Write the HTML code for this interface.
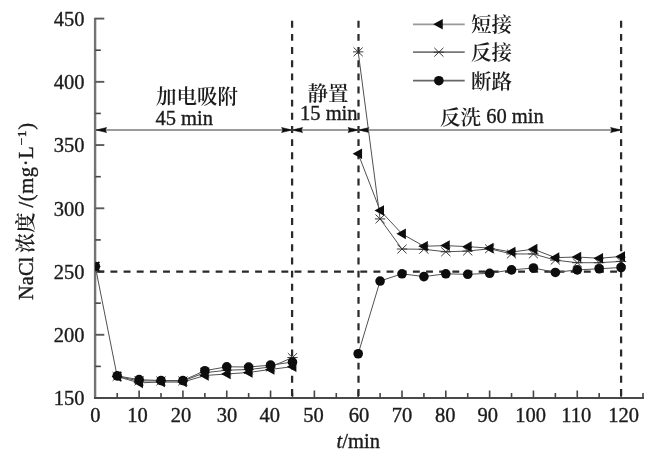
<!DOCTYPE html>
<html lang="zh"><head><meta charset="utf-8"><title>NaCl 浓度</title>
<style>html,body{margin:0;padding:0;background:#fff}body{width:653px;height:456px;overflow:hidden}</style>
</head><body>
<svg width="653" height="456" viewBox="0 0 653 456" style="display:block;font-family:'Liberation Serif', 'Noto Serif CJK SC', serif;font-size:20.5px" fill="#1a1a1a">
<style>text{stroke:#1a1a1a;stroke-width:0.35px;paint-order:stroke}.c{font-weight:600;stroke-width:0}</style>
<defs><filter id="soft" filterUnits="userSpaceOnUse" x="-5" y="-5" width="663" height="466"><feGaussianBlur stdDeviation="0.55"/></filter><clipPath id="plot"><rect x="95.30" y="0" width="560" height="398.01"/></clipPath></defs>
<rect width="653" height="456" fill="#fff"/>
<g filter="url(#soft)">
<g fill="none" stroke-linecap="butt">
<path d="M95.10 17.80V399.01" stroke="#737373" stroke-width="2.4"/>
<path d="M94.00 398.01H643.99" stroke="#4a4a4a" stroke-width="2"/>
</g>
<g stroke="#444" stroke-width="1.6" fill="none">
<path d="M95.30 366.39h5.5" />
<path d="M95.30 334.78h9" stroke="#5a5a5a" stroke-width="1.9"/>
<path d="M95.30 303.16h5.5" />
<path d="M95.30 271.54h9" stroke="#5a5a5a" stroke-width="1.9"/>
<path d="M95.30 239.92h5.5" />
<path d="M95.30 208.30h9" stroke="#5a5a5a" stroke-width="1.9"/>
<path d="M95.30 176.69h5.5" />
<path d="M95.30 145.07h9" stroke="#5a5a5a" stroke-width="1.9"/>
<path d="M95.30 113.45h5.5" />
<path d="M95.30 81.84h9" stroke="#5a5a5a" stroke-width="1.9"/>
<path d="M95.30 50.22h5.5" />
<path d="M95.30 18.60h9" stroke="#5a5a5a" stroke-width="1.9"/>
<path d="M117.21 398.01v-5"/>
<path d="M139.12 398.01v-7.5"/>
<path d="M161.02 398.01v-5"/>
<path d="M182.93 398.01v-7.5"/>
<path d="M204.84 398.01v-5"/>
<path d="M226.75 398.01v-7.5"/>
<path d="M248.65 398.01v-5"/>
<path d="M270.56 398.01v-7.5"/>
<path d="M292.47 398.01v-5"/>
<path d="M314.38 398.01v-7.5"/>
<path d="M336.28 398.01v-5"/>
<path d="M358.19 398.01v-7.5"/>
<path d="M380.10 398.01v-5"/>
<path d="M402.00 398.01v-7.5"/>
<path d="M423.91 398.01v-5"/>
<path d="M445.82 398.01v-7.5"/>
<path d="M467.73 398.01v-5"/>
<path d="M489.63 398.01v-7.5"/>
<path d="M511.54 398.01v-5"/>
<path d="M533.45 398.01v-7.5"/>
<path d="M555.36 398.01v-5"/>
<path d="M577.26 398.01v-7.5"/>
<path d="M599.17 398.01v-5"/>
<path d="M621.08 398.01v-7.5"/>
<path d="M642.99 398.01v-5"/>
</g>
<text x="84.6" y="405.31" text-anchor="end">150</text>
<text x="84.6" y="342.08" text-anchor="end">200</text>
<text x="84.6" y="278.84" text-anchor="end">250</text>
<text x="84.6" y="215.60" text-anchor="end">300</text>
<text x="84.6" y="152.37" text-anchor="end">350</text>
<text x="84.6" y="89.14" text-anchor="end">400</text>
<text x="84.6" y="25.90" text-anchor="end">450</text>
<text x="95.30" y="422.4" text-anchor="middle">0</text>
<text x="137.62" y="422.4" text-anchor="middle">10</text>
<text x="180.93" y="422.4" text-anchor="middle">20</text>
<text x="226.94" y="422.4" text-anchor="middle">30</text>
<text x="269.76" y="422.4" text-anchor="middle">40</text>
<text x="313.38" y="422.4" text-anchor="middle">50</text>
<text x="358.89" y="422.4" text-anchor="middle">60</text>
<text x="402.00" y="422.4" text-anchor="middle">70</text>
<text x="445.32" y="422.4" text-anchor="middle">80</text>
<text x="487.63" y="422.4" text-anchor="middle">90</text>
<text x="530.65" y="422.4" text-anchor="middle">100</text>
<text x="576.26" y="422.4" text-anchor="middle">110</text>
<text x="623.68" y="422.4" text-anchor="middle">120</text>
<g stroke="#2a2a2a" stroke-width="2.25" fill="none" stroke-dasharray="6.9 6.25">
<path d="M292.10 20.8V398.01"/>
<path d="M358.50 20.8V398.01"/>
<path d="M621.10 20.8V398.01"/>
<path d="M97.30 271.54H621.08"/>
</g>
<path d="M95.30 130.0H621.08" stroke="#7a7a7a" stroke-width="1.6" fill="none"/>
<path d="M96.10 130.0L106.60 127.5L105.34 130.0L106.60 132.5Z" fill="#0a0a0a" stroke="#0a0a0a" stroke-width="0.5" stroke-linejoin="round"/>
<path d="M292.10 130.0L281.60 127.5L282.86 130.0L281.60 132.5Z" fill="#0a0a0a" stroke="#0a0a0a" stroke-width="0.5" stroke-linejoin="round"/>
<path d="M292.10 130.0L302.60 127.5L301.34 130.0L302.60 132.5Z" fill="#0a0a0a" stroke="#0a0a0a" stroke-width="0.5" stroke-linejoin="round"/>
<path d="M358.50 130.0L348.00 127.5L349.26 130.0L348.00 132.5Z" fill="#0a0a0a" stroke="#0a0a0a" stroke-width="0.5" stroke-linejoin="round"/>
<path d="M358.50 130.0L369.00 127.5L367.74 130.0L369.00 132.5Z" fill="#0a0a0a" stroke="#0a0a0a" stroke-width="0.5" stroke-linejoin="round"/>
<path d="M621.10 130.0L610.60 127.5L611.86 130.0L610.60 132.5Z" fill="#0a0a0a" stroke="#0a0a0a" stroke-width="0.5" stroke-linejoin="round"/>
<text x="156" y="104.1" class="c">加电吸附</text>
<text x="155.4" y="124.8">45 min</text>
<text x="307.6" y="100.5" class="c">静置</text>
<text x="300" y="120.4">15 min</text>
<text x="440" y="123.2"><tspan class="c" dy="1.5">反洗</tspan><tspan dy="-1.5"> 60 min</tspan></text>
<g clip-path="url(#plot)">
<g stroke="#505050" stroke-width="1" fill="none">
<path d="M95.30 266.48L117.21 376.51L139.12 382.83L161.02 382.07L182.93 382.07L204.84 375.50L226.75 373.98L248.65 372.46L270.56 369.43L292.47 366.65"/>
<path d="M117.21 376.51L139.12 380.94L161.02 380.94L182.93 380.94L204.84 372.72L226.75 370.19L248.65 369.55L270.56 367.02L292.47 357.54"/>
<path d="M117.21 375.88L139.12 379.67L161.02 380.56L182.93 380.56L204.84 370.69L226.75 366.77L248.65 367.02L270.56 365.13L292.47 362.09"/>
<path d="M358.19 153.80L380.10 210.45L402.00 233.85L423.91 246.25L445.82 245.61L467.73 246.63L489.63 248.14L511.54 252.06L533.45 249.15L555.36 257.63L577.26 257.00L599.17 258.26L621.08 256.49"/>
<path d="M358.19 51.86L380.10 218.93L402.00 249.03L423.91 249.28L445.82 251.81L467.73 251.05L489.63 248.78L511.54 253.96L533.45 253.96L555.36 260.16L577.26 262.69L599.17 262.69L621.08 261.42"/>
<path d="M358.19 353.75L380.10 281.03L402.00 273.82L423.91 276.60L445.82 273.82L467.73 274.32L489.63 273.31L511.54 269.90L533.45 268.00L555.36 272.43L577.26 269.90L599.17 268.76L621.08 267.49"/>
</g>
<g fill="#0a0a0a">
<path d="M90.10 266.48H100.50M90.70 262.08L99.90 270.88M90.70 270.88L99.90 262.08" stroke="#333" stroke-width="0.95" fill="none"/>
<path d="M112.01 376.51H122.41M112.61 372.11L121.81 380.91M112.61 380.91L121.81 372.11" stroke="#333" stroke-width="0.95" fill="none"/>
<path d="M133.92 380.94H144.31M134.52 376.54L143.72 385.34M134.52 385.34L143.72 376.54" stroke="#333" stroke-width="0.95" fill="none"/>
<path d="M155.82 380.94H166.22M156.42 376.54L165.62 385.34M156.42 385.34L165.62 376.54" stroke="#333" stroke-width="0.95" fill="none"/>
<path d="M177.73 380.94H188.13M178.33 376.54L187.53 385.34M178.33 385.34L187.53 376.54" stroke="#333" stroke-width="0.95" fill="none"/>
<path d="M199.64 372.72H210.04M200.24 368.32L209.44 377.12M200.24 377.12L209.44 368.32" stroke="#333" stroke-width="0.95" fill="none"/>
<path d="M221.55 370.19H231.94M222.15 365.79L231.34 374.59M222.15 374.59L231.34 365.79" stroke="#333" stroke-width="0.95" fill="none"/>
<path d="M243.45 369.55H253.85M244.05 365.15L253.25 373.95M244.05 373.95L253.25 365.15" stroke="#333" stroke-width="0.95" fill="none"/>
<path d="M265.36 367.02H275.76M265.96 362.62L275.16 371.42M265.96 371.42L275.16 362.62" stroke="#333" stroke-width="0.95" fill="none"/>
<path d="M287.27 357.54H297.67M287.87 353.14L297.07 361.94M287.87 361.94L297.07 353.14" stroke="#333" stroke-width="0.95" fill="none"/>
<path d="M89.70 266.48L99.20 261.18V271.78Z"/>
<path d="M111.61 376.51L121.11 371.21V381.81Z"/>
<path d="M133.52 382.83L143.02 377.53V388.13Z"/>
<path d="M155.42 382.07L164.92 376.77V387.37Z"/>
<path d="M177.33 382.07L186.83 376.77V387.37Z"/>
<path d="M199.24 375.50L208.74 370.20V380.80Z"/>
<path d="M221.15 373.98L230.65 368.68V379.28Z"/>
<path d="M243.05 372.46L252.55 367.16V377.76Z"/>
<path d="M264.96 369.43L274.46 364.13V374.73Z"/>
<path d="M286.87 366.65L296.37 361.35V371.95Z"/>
<circle cx="95.30" cy="266.48" r="4.8"/>
<circle cx="117.21" cy="375.88" r="4.8"/>
<circle cx="139.12" cy="379.67" r="4.8"/>
<circle cx="161.02" cy="380.56" r="4.8"/>
<circle cx="182.93" cy="380.56" r="4.8"/>
<circle cx="204.84" cy="370.69" r="4.8"/>
<circle cx="226.75" cy="366.77" r="4.8"/>
<circle cx="248.65" cy="367.02" r="4.8"/>
<circle cx="270.56" cy="365.13" r="4.8"/>
<circle cx="292.47" cy="362.09" r="4.8"/>
<path d="M352.99 51.86H363.39M353.59 47.46L362.79 56.26M353.59 56.26L362.79 47.46" stroke="#333" stroke-width="0.95" fill="none"/>
<path d="M374.90 218.93H385.30M375.50 214.53L384.70 223.33M375.50 223.33L384.70 214.53" stroke="#333" stroke-width="0.95" fill="none"/>
<path d="M396.81 249.03H407.20M397.40 244.63L406.61 253.43M397.40 253.43L406.61 244.63" stroke="#333" stroke-width="0.95" fill="none"/>
<path d="M418.71 249.28H429.11M419.31 244.88L428.51 253.68M419.31 253.68L428.51 244.88" stroke="#333" stroke-width="0.95" fill="none"/>
<path d="M440.62 251.81H451.02M441.22 247.41L450.42 256.21M441.22 256.21L450.42 247.41" stroke="#333" stroke-width="0.95" fill="none"/>
<path d="M462.53 251.05H472.93M463.13 246.65L472.33 255.45M463.13 255.45L472.33 246.65" stroke="#333" stroke-width="0.95" fill="none"/>
<path d="M484.44 248.78H494.83M485.03 244.38L494.24 253.18M485.03 253.18L494.24 244.38" stroke="#333" stroke-width="0.95" fill="none"/>
<path d="M506.34 253.96H516.74M506.94 249.56L516.14 258.36M506.94 258.36L516.14 249.56" stroke="#333" stroke-width="0.95" fill="none"/>
<path d="M528.25 253.96H538.65M528.85 249.56L538.05 258.36M528.85 258.36L538.05 249.56" stroke="#333" stroke-width="0.95" fill="none"/>
<path d="M550.16 260.16H560.56M550.76 255.76L559.96 264.56M550.76 264.56L559.96 255.76" stroke="#333" stroke-width="0.95" fill="none"/>
<path d="M572.06 262.69H582.47M572.66 258.29L581.87 267.09M572.66 267.09L581.87 258.29" stroke="#333" stroke-width="0.95" fill="none"/>
<path d="M593.97 262.69H604.37M594.57 258.29L603.77 267.09M594.57 267.09L603.77 258.29" stroke="#333" stroke-width="0.95" fill="none"/>
<path d="M615.88 261.42H626.28M616.48 257.02L625.68 265.82M616.48 265.82L625.68 257.02" stroke="#333" stroke-width="0.95" fill="none"/>
<path d="M352.59 153.80L362.09 148.50V159.10Z"/>
<path d="M374.50 210.45L384.00 205.15V215.75Z"/>
<path d="M396.40 233.85L405.90 228.55V239.15Z"/>
<path d="M418.31 246.25L427.81 240.95V251.55Z"/>
<path d="M440.22 245.61L449.72 240.31V250.91Z"/>
<path d="M462.13 246.63L471.63 241.33V251.93Z"/>
<path d="M484.03 248.14L493.53 242.84V253.44Z"/>
<path d="M505.94 252.06L515.44 246.76V257.36Z"/>
<path d="M527.85 249.15L537.35 243.85V254.45Z"/>
<path d="M549.76 257.63L559.26 252.33V262.93Z"/>
<path d="M571.66 257.00L581.16 251.70V262.30Z"/>
<path d="M593.57 258.26L603.07 252.96V263.56Z"/>
<path d="M615.48 256.49L624.98 251.19V261.79Z"/>
<circle cx="358.19" cy="353.75" r="4.8"/>
<circle cx="380.10" cy="281.03" r="4.8"/>
<circle cx="402.00" cy="273.82" r="4.8"/>
<circle cx="423.91" cy="276.60" r="4.8"/>
<circle cx="445.82" cy="273.82" r="4.8"/>
<circle cx="467.73" cy="274.32" r="4.8"/>
<circle cx="489.63" cy="273.31" r="4.8"/>
<circle cx="511.54" cy="269.90" r="4.8"/>
<circle cx="533.45" cy="268.00" r="4.8"/>
<circle cx="555.36" cy="272.43" r="4.8"/>
<circle cx="577.26" cy="269.90" r="4.8"/>
<circle cx="599.17" cy="268.76" r="4.8"/>
<circle cx="621.08" cy="267.49" r="4.8"/>
</g></g>
<path d="M413 24.3H464.7" stroke="#999" stroke-width="1.7" fill="none"/>
<g fill="#0a0a0a"><path d="M433.25 24.30L442.75 19.00V29.60Z"/></g>
<text x="471" y="32.10" class="c">短接</text>
<path d="M413 52.2H464.7" stroke="#777" stroke-width="1.7" fill="none"/>
<g fill="#0a0a0a"><path d="M433.65 52.20H444.05M434.25 47.80L443.45 56.60M434.25 56.60L443.45 47.80" stroke="#333" stroke-width="0.95" fill="none"/></g>
<text x="471" y="60.00" class="c">反接</text>
<path d="M413 80.7H464.7" stroke="#666" stroke-width="1.7" fill="none"/>
<g fill="#0a0a0a"><circle cx="438.85" cy="80.70" r="4.8"/></g>
<text x="471" y="88.50" class="c">断路</text>
<text x="336.6" y="448.2"><tspan font-style="italic">t</tspan>/min</text>
<text transform="translate(32.6 300) rotate(-90)">NaCl</text>
<text transform="translate(32.6 253.2) rotate(-90)" class="c">浓度</text>
<text transform="translate(32.6 207.6) rotate(-90)" textLength="84.6" lengthAdjust="spacing">/(mg·L<tspan dy="-7" font-size="13.5">−1</tspan><tspan dy="7">)</tspan></text>
</g>
</svg>
</body></html>
